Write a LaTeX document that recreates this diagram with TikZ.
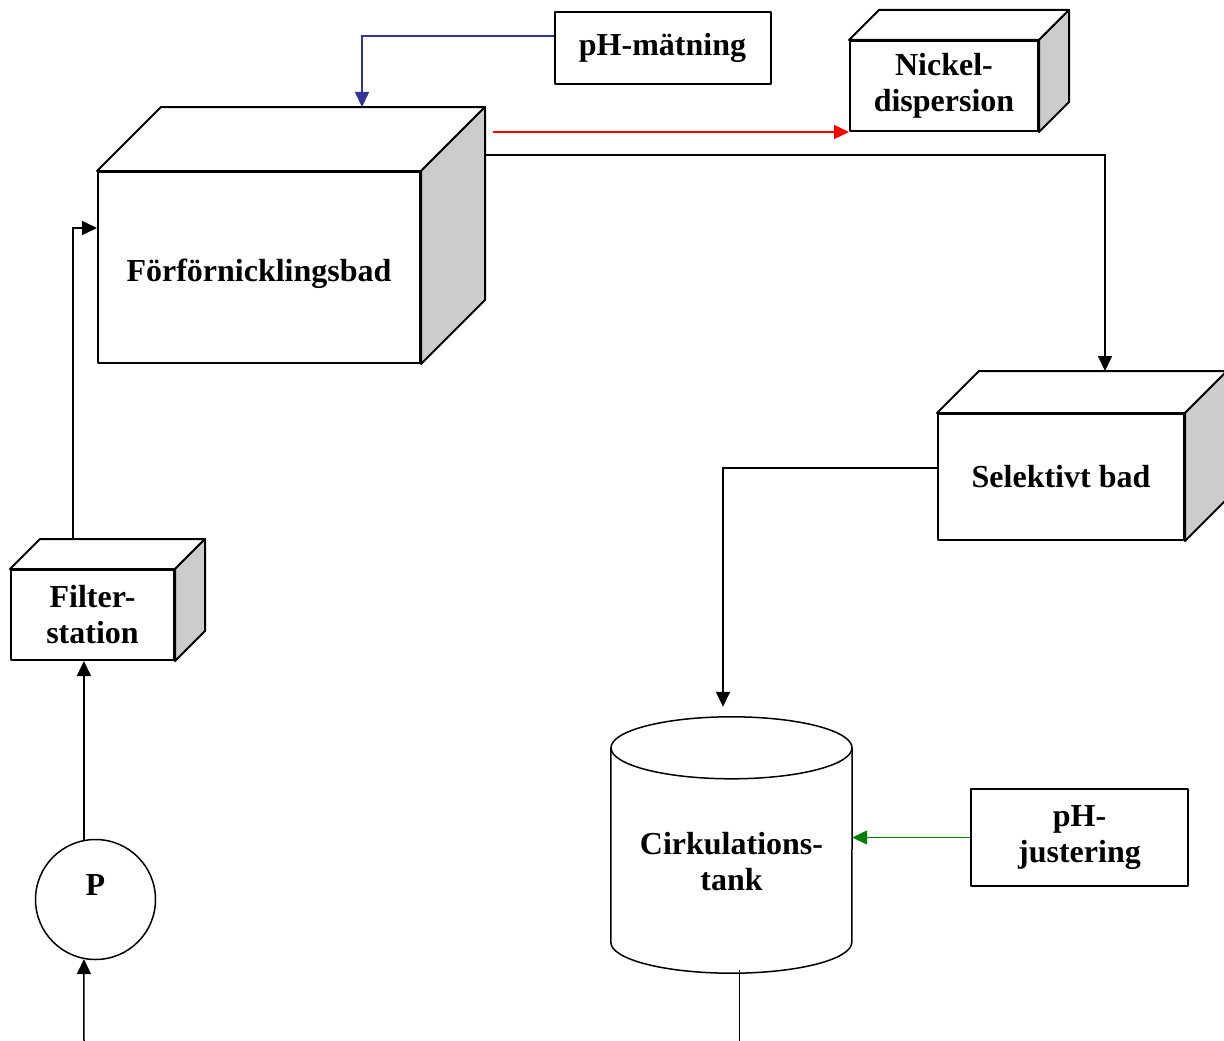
\documentclass[tikz,border=0pt]{standalone}
\usepackage{fontspec}
\setmainfont{Liberation Serif}
\usetikzlibrary{arrows.meta,calc}

\definecolor{sidegray}{RGB}{204,204,204}
\definecolor{phblue}{RGB}{51,51,153}
\definecolor{phgreen}{RGB}{0,128,0}

\tikzset{
  boxline/.style={draw=black,line width=2pt,line join=round},
  boxfront/.style={boxline,fill=white,align=center,inner sep=0pt},
  lbl/.style={align=center},
  flow/.style={line width=1.5pt,-{Triangle[length=15pt,width=14pt]}},
}

% top and right face of a box drawn behind a front node
\newcommand{\cubefaces}[2]{%
  \draw[boxline,fill=white] (#1.north west) -- ++(#2,-#2) -- ([shift={(#2,-#2)}]#1.north east) -- (#1.north east) -- cycle;
  \draw[boxline,fill=sidegray] (#1.north east) -- ++(#2,-#2) -- ([shift={(#2,-#2)}]#1.south east) -- (#1.south east) -- cycle;
}

\begin{document}
\begin{tikzpicture}[x=1pt,y=-1pt,font=\bfseries\fontsize{32}{36}\selectfont]
\useasboundingbox (0,0) rectangle (1224,1041);

\node[boxfront,minimum width=322pt,minimum height=191pt,text height=34pt,text depth=7pt] (bad) at (259,267.5) {Förförnicklingsbad};
\cubefaces{bad}{64}
\node[boxfront,minimum width=216pt,minimum height=72pt] (phm) at (662.5,48) {pH-mätning};
\node[boxfront,minimum width=188pt,minimum height=90pt] (nickel) at (944,86) {Nickel-\\dispersion};
\cubefaces{nickel}{30}
\node[boxfront,minimum width=246pt,minimum height=126pt] (sel) at (1061,477) {Selektivt bad};
\cubefaces{sel}{42}
\node[boxfront,minimum width=163pt,minimum height=90pt] (filter) at (92.5,615) {Filter-\\station};
\cubefaces{filter}{30}
\node[boxfront,minimum width=217pt,minimum height=97pt] (phj) at (1079.5,837.5) {pH-\\justering};

% pump
\node[draw,circle,line width=1.5pt,minimum size=120pt,inner sep=0pt] (pump) at (95.5,899.5) {};
\node at ($(pump.center)+(0,-14)$) {P};

% tank
\node[minimum width=241pt,minimum height=256pt,inner sep=0pt] (tank) at (731.5,845) {};
\draw[line width=1.5pt] ($(tank.north)+(0,31)$) ellipse [x radius=120.5pt,y radius=31pt];
\draw[line width=1.5pt] ($(tank.north west)+(0,31)$) -- ($(tank.south west)+(0,-31)$)
  arc[start angle=180,end angle=360,x radius=120.5pt,y radius=31pt] -- ($(tank.north east)+(0,31)$);
\node[lbl] at (731.5,862) {Cirkulations-\\tank};

\coordinate (badtl) at ([shift={(64,-64)}]bad.north west);
\coordinate (badbr) at ([shift={(64,-64)}]bad.north east);
\coordinate (inlet) at (84,1041);
\coordinate (tankout) at (739.5,1041);

\draw[flow,phblue] ($(phm.west)+(0,-12)$) -| ($(badtl)+(201,0)$);
\draw[flow,red] ($(badbr |- nickel.south west)+(8,0)$) -- (nickel.south west);
\draw[flow] ($(badbr)+(0,48)$) -| ($(sel.north west)+(168,-42)$);
\draw[flow] ($(sel.west)+(0,-9)$) -| ($(tank.north)+(-8.5,-10)$);
\draw[flow,phgreen] (phj.west) -- (phj.west -| tank.east);
\draw[line width=1.5pt] ($(tank.south)+(8,-3)$) -- (tankout);
\draw[flow] (inlet) -- (pump.259);
\draw[flow] (pump.101) -- (pump.101 |- filter.south);
\draw[flow] ($(filter.north west)+(63,-30)$) |- ($(bad.west)+(0,-39.5)$);
\end{tikzpicture}
\end{document}
